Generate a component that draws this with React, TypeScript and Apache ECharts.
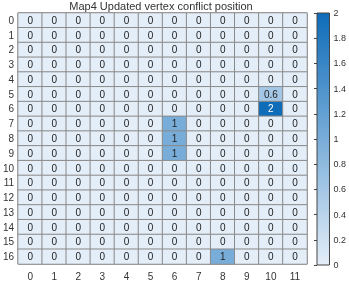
import React, { useEffect, useRef } from "react";
import * as echarts from "echarts";

const titleText = "Map4 Updated vertex conflict position";
const xCategories = ["0", "1", "2", "3", "4", "5", "6", "7", "8", "9", "10", "11"];
const yCategories = ["0", "1", "2", "3", "4", "5", "6", "7", "8", "9", "10", "11", "12", "13", "14", "15", "16"];
// rows top (0) to bottom (16), columns 0..11
const values: number[][] = [
  [0, 0, 0, 0, 0, 0, 0, 0, 0, 0, 0, 0],
  [0, 0, 0, 0, 0, 0, 0, 0, 0, 0, 0, 0],
  [0, 0, 0, 0, 0, 0, 0, 0, 0, 0, 0, 0],
  [0, 0, 0, 0, 0, 0, 0, 0, 0, 0, 0, 0],
  [0, 0, 0, 0, 0, 0, 0, 0, 0, 0, 0, 0],
  [0, 0, 0, 0, 0, 0, 0, 0, 0, 0, 0.6, 0],
  [0, 0, 0, 0, 0, 0, 0, 0, 0, 0, 2, 0],
  [0, 0, 0, 0, 0, 0, 1, 0, 0, 0, 0, 0],
  [0, 0, 0, 0, 0, 0, 1, 0, 0, 0, 0, 0],
  [0, 0, 0, 0, 0, 0, 1, 0, 0, 0, 0, 0],
  [0, 0, 0, 0, 0, 0, 0, 0, 0, 0, 0, 0],
  [0, 0, 0, 0, 0, 0, 0, 0, 0, 0, 0, 0],
  [0, 0, 0, 0, 0, 0, 0, 0, 0, 0, 0, 0],
  [0, 0, 0, 0, 0, 0, 0, 0, 0, 0, 0, 0],
  [0, 0, 0, 0, 0, 0, 0, 0, 0, 0, 0, 0],
  [0, 0, 0, 0, 0, 0, 0, 0, 0, 0, 0, 0],
  [0, 0, 0, 0, 0, 0, 0, 0, 1, 0, 0, 0],
];
const colorMin = 0;
const colorMax = 2;
const colorTickStep = 0.2;

const LIGHT = "#E4EEF8";
const DARK = "#0E6CB9";
const FONT = "'Liberation Sans', Arial, Helvetica, sans-serif";

export default function App() {
  const ref = useRef<HTMLDivElement>(null);
  useEffect(() => {
    if (!ref.current) return;
    const chart = echarts.init(ref.current, undefined, { renderer: "svg" });
    const data: any[] = [];
    values.forEach((row, r) => {
      row.forEach((v, c) => {
        data.push({
          value: [c, r, v],
          label: { color: v > 1.4 ? "#ffffff" : "#222222" },
        });
      });
    });
    chart.setOption({
      animation: false,
      textStyle: { fontFamily: FONT },
      title: {
        text: titleText,
        left: 161,
        textAlign: "center",
        top: 0,
        padding: 0,
        textStyle: { fontSize: 11, fontWeight: "normal", color: "#333", fontFamily: FONT },
      },
      grid: [
        { left: 15, top: 13, width: 292, height: 251, show: true, borderColor: "#888", borderWidth: 1, backgroundColor: "transparent" },
        {
          left: 317,
          top: 13,
          width: 15,
          height: 252,
          show: true,
          borderColor: "#444",
          borderWidth: 1,
          backgroundColor: new echarts.graphic.LinearGradient(0, 0, 0, 1, [
            { offset: 0, color: DARK },
            { offset: 1, color: LIGHT },
          ]),
        },
      ],
      xAxis: [
        {
          type: "category",
          gridIndex: 0,
          data: xCategories,
          position: "bottom",
          axisLine: { show: false },
          axisTick: { show: false },
          splitLine: { show: false },
          axisLabel: { color: "#333", fontSize: 10, margin: 7, fontFamily: FONT },
        },
        { type: "value", gridIndex: 1, show: false, min: 0, max: 1 },
      ],
      yAxis: [
        {
          type: "category",
          gridIndex: 0,
          data: yCategories,
          inverse: true,
          axisLine: { show: false },
          axisTick: { show: false },
          splitLine: { show: false },
          axisLabel: { color: "#333", fontSize: 10, margin: 4, fontFamily: FONT },
        },
        {
          type: "value",
          gridIndex: 1,
          position: "right",
          min: colorMin,
          max: colorMax,
          interval: colorTickStep,
          axisLine: { show: false },
          axisTick: { show: true, inside: true, length: 3, lineStyle: { color: "#444" } },
          splitLine: { show: false },
          axisLabel: { color: "#333", fontSize: 9, margin: 4, fontFamily: FONT },
        },
      ],
      visualMap: {
        show: false,
        min: colorMin,
        max: colorMax,
        seriesIndex: 0,
        inRange: { color: [LIGHT, DARK] },
      },
      series: [
        {
          type: "heatmap",
          xAxisIndex: 0,
          yAxisIndex: 0,
          data,
          label: { show: true, fontSize: 10, fontFamily: FONT },
          itemStyle: { borderColor: "#8a8a8a", borderWidth: 1 },
          emphasis: { disabled: true },
        },
        { type: "scatter", xAxisIndex: 1, yAxisIndex: 1, data: [] },
      ],
    });
    return () => chart.dispose();
  }, []);
  return <div ref={ref} style={{ position: "fixed", left: 0, top: 0, width: 349, height: 281 }} />;
}
